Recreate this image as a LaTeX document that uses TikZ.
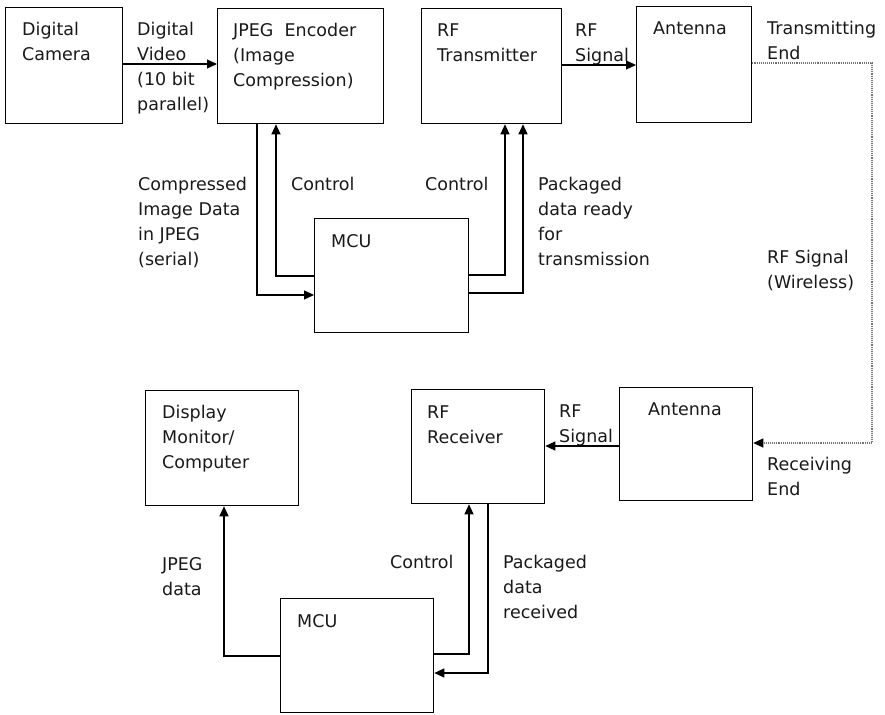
\documentclass[tikz,border=0pt]{standalone}
\usepackage{fontspec}
\setmainfont{DejaVu Sans}
\usetikzlibrary{arrows.meta}
\begin{document}
\begin{tikzpicture}[x=1pt,y=-1pt,
  box/.style={draw, line width=1.3pt, rectangle, anchor=north west, inner sep=0pt},
  % labels are placed by the baseline of their last line
  txt/.style={anchor=base west, align=left, inner sep=0pt, text=black!90,
              font=\fontsize{17.5}{25}\selectfont},
  link/.style={line width=1.2pt, -{Triangle[length=10pt,width=9pt]}},
  wire/.style={line width=1.1pt, black!55, densely dotted,
               -{Triangle[length=10pt,width=9pt,color=black]}}]
\useasboundingbox (0,0) rectangle (885,714);

% ---- transmitting side ----
\node[box, minimum width=117pt, minimum height=116pt] (cam)  at (5,7)   {};
\node[box, minimum width=166pt, minimum height=115pt] (enc)  at (217,8) {};
\node[box, minimum width=140pt, minimum height=115pt] (rftx) at (421,8) {};
\node[box, minimum width=115pt, minimum height=116pt] (antT) at (636,6) {};
\node[box, minimum width=154pt, minimum height=114pt] (mcuT) at (314,218) {};

% ---- receiving side ----
\node[box, minimum width=133pt, minimum height=113pt] (antR) at (619,387) {};
\node[box, minimum width=133pt, minimum height=114pt] (rfrx) at (411,389) {};
\node[box, minimum width=153pt, minimum height=115pt] (disp) at (145,390) {};
\node[box, minimum width=153pt, minimum height=114pt] (mcuR) at (280,598) {};

% ---- box titles ----
\node[txt] (tCam)  at (22,61)   {Digital\\Camera};
\node[txt] (tEnc)  at (233,87)  {JPEG\ \ Encoder\\(Image\\Compression)};
\node[txt] (tRftx) at (437,62)  {RF\\Transmitter};
\node[txt] (tAntT) at (653,35)  {Antenna};
\node[txt] (tMcuT) at (331,247) {MCU};
\node[txt] (tAntR) at (648,415) {Antenna};
\node[txt] (tRfrx) at (427,443) {RF\\Receiver};
\node[txt] (tDisp) at (162,468) {Display\\Monitor/\\Computer};
\node[txt] (tMcuR) at (297,627) {MCU};

% ---- connector labels ----
\node[txt] (lVid)   at (137,111) {Digital\\Video\\(10 bit\\parallel)};
\node[txt] (lRfT)   at (575,62)  {RF\\Signal};
\node[txt] (lTxEnd) at (767,60)  {Transmitting\\End};
\node[txt] (lComp)  at (138,265) {Compressed\\Image Data\\in JPEG\\(serial)};
\node[txt] (lCtl1)  at (291,190) {Control};
\node[txt] (lCtl2)  at (425,190) {Control};
\node[txt] (lPkT)   at (538,265) {Packaged\\data ready\\for\\transmission};
\node[txt] (lWl)    at (767,288) {RF Signal\\(Wireless)};
\node[txt] (lRfR)   at (559,442) {RF\\Signal};
\node[txt] (lRxEnd) at (767,495) {Receiving\\End};
\node[txt] (lJpg)   at (162,595) {JPEG\\data};
\node[txt] (lCtl3)  at (390,568) {Control};
\node[txt] (lPkR)   at (503,618) {Packaged\\data\\received};

% ---- bend points ----
\coordinate (pComp) at (257,295);
\coordinate (pCtl1) at (276,276);
\coordinate (pCtl2) at (505,275);
\coordinate (pPkT)  at (523,293);
\coordinate (pW1)   at (872,63);
\coordinate (pW2)   at (872,443);
\coordinate (pJpg)  at (224,656);
\coordinate (pCtl3) at (469,654);
\coordinate (pPkR)  at (488,673);

% ---- connectors, transmitting side ----
\draw[link] (cam.east |- 0,64) -- (enc.west |- 0,64);
\draw[link] (rftx.east |- 0,65) -- (antT.west |- 0,65);
\draw[link] (pComp |- enc.south) -- (pComp) -- (pComp -| mcuT.west);
\draw[link] (pCtl1 -| mcuT.west) -- (pCtl1) -- (pCtl1 |- enc.south);
\draw[link] (pCtl2 -| mcuT.east) -- (pCtl2) -- (pCtl2 |- rftx.south);
\draw[link] (pPkT -| mcuT.east) -- (pPkT) -- (pPkT |- rftx.south);

% ---- wireless link ----
\draw[wire] (pW1 -| antT.east) -- (pW1) -- (pW2) -- (pW2 -| antR.east);

% ---- connectors, receiving side ----
\draw[link] (antR.west |- 0,446) -- (rfrx.east |- 0,446);
\draw[link] (pJpg -| mcuR.west) -- (pJpg) -- (pJpg |- disp.south);
\draw[link] (pCtl3 -| mcuR.east) -- (pCtl3) -- (pCtl3 |- rfrx.south);
\draw[link] (pPkR |- rfrx.south) -- (pPkR) -- (pPkR -| mcuR.east);
\end{tikzpicture}
\end{document}
